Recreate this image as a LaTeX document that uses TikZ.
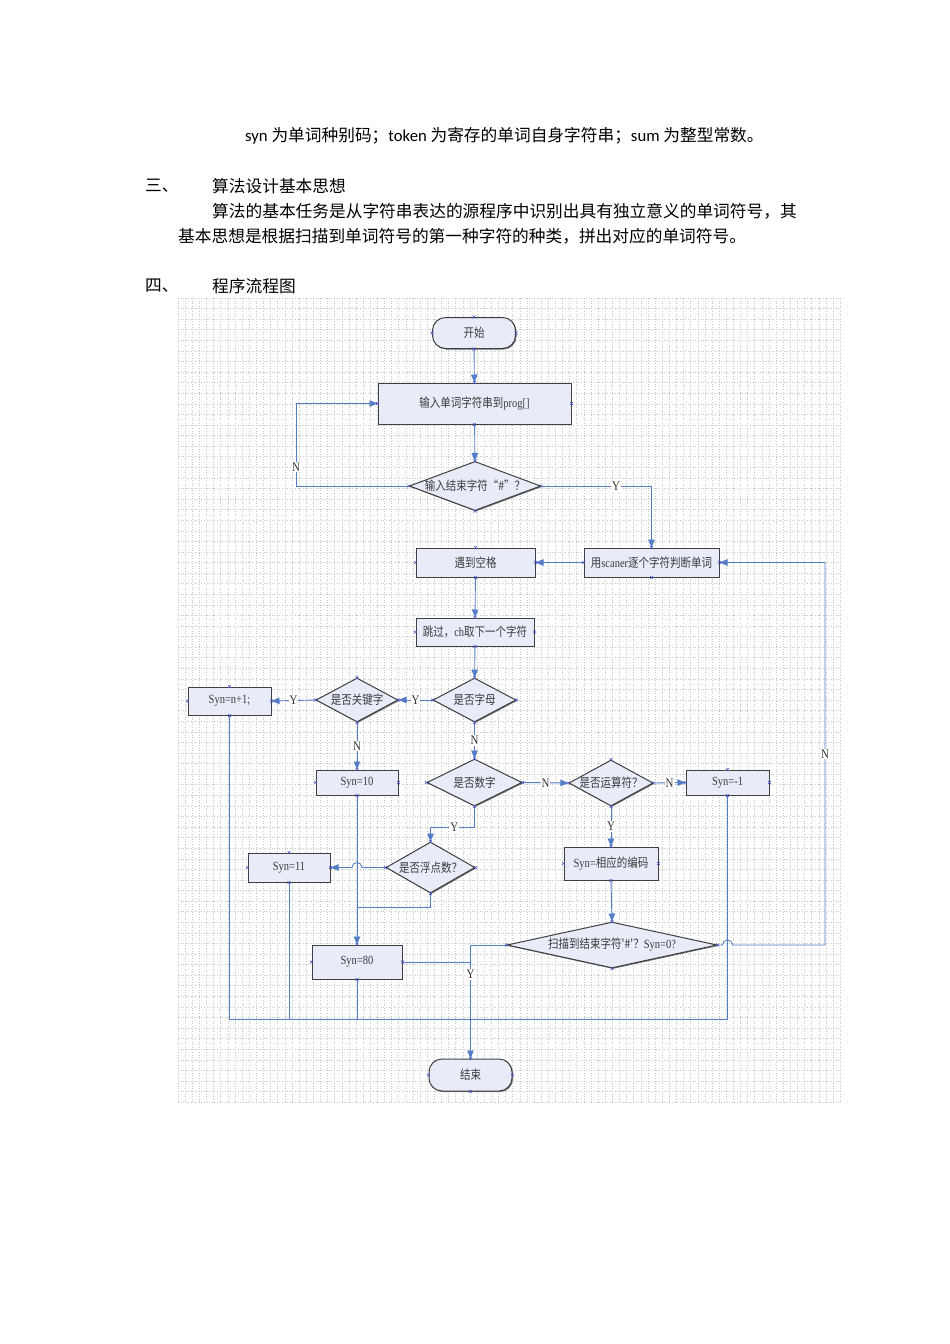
\documentclass[tikz,border=0pt]{standalone}
\usepackage{fontspec}
\setmainfont{Liberation Serif}
\newfontfamily\cjk{Noto Sans CJK SC}
\newfontfamily\calib{Carlito}
\newfontfamily\cjkc[FakeStretch=0.84]{Noto Sans CJK SC}
\newfontfamily\serifc[FakeStretch=0.84]{Liberation Serif}
\usetikzlibrary{shapes.geometric,arrows.meta,shadows,calc}
\definecolor{linkblue}{RGB}{84,125,200}
\definecolor{boxfill}{RGB}{232,236,248}
\definecolor{boxline}{RGB}{64,64,64}
\definecolor{boxtext}{RGB}{60,60,60}
\definecolor{cptblue}{RGB}{70,80,200}
\definecolor{gridgray}{RGB}{200,200,200}
\newcommand{\zh}[1]{{\cjk #1}}
\newcommand{\zc}[1]{{\cjkc #1}}

\begin{document}
\begin{tikzpicture}[x=1pt,y=-1pt,
  bodytext/.style={anchor=west,inner sep=0pt,font=\fontsize{16.7}{20}\selectfont},
  chart/.style={draw=boxline,fill=boxfill,line width=1pt,text=boxtext,inner sep=0pt,
    font=\serifc\fontsize{12.5}{14}\selectfont,
    drop shadow={shadow xshift=1pt,shadow yshift=-1pt,fill=black!55,opacity=1}},
  termbox/.style={chart,rounded corners=13pt},
  procbox/.style={chart,rectangle},
  decbox/.style={chart,diamond},
  link/.style={draw=linkblue,line width=0.9pt},
  flow/.style={link,-{Triangle[length=8pt,width=6.5pt]}},
  tag/.style={fill=white,inner sep=1pt,text=black!80,font=\serifc\fontsize{13}{14}\selectfont},
  gridline/.style={gridgray,line width=0.5pt,dash pattern=on 1pt off 1.6pt},
  cptmark/.style={cptblue,line width=0.5pt}]
\fill[white] (0,0) rectangle (950,1344);
\useasboundingbox (0,0) rectangle (950,1344);

\node[bodytext] (line1) at (245,136) {\calib syn {\cjk 为单词种别码；}token {\cjk 为寄存的单词自身字符串；}sum {\cjk 为整型常数。}};
\node[bodytext] (sec3) at (145,186) {\zh{三、}};
\node[bodytext] (sec3t) at (212,186) {\zh{算法设计基本思想}};
\node[bodytext] (line2) at (212,211) {\zh{算法的基本任务是从字符串表达的源程序中识别出具有独立意义的单词符号，其}};
\node[bodytext] (line3) at (178,236) {\zh{基本思想是根据扫描到单词符号的第一种字符的种类，拼出对应的单词符号。}};
\node[bodytext] (sec4) at (145,286) {\zh{四、}};
\node[bodytext] (sec4t) at (212,286) {\zh{程序流程图}};

\foreach \gx in {0,...,93}
  \draw[gridline] (178+\gx*7.12,298) -- ++(0,804);
\foreach \gy in {0,...,76}
  \draw[gridline] (178,298+\gy*10.58) -- ++(662,0);

\node[termbox,minimum width=83pt,minimum height=31pt] at (474,333) (start) {\zc{开始}};
\node[procbox,minimum width=193pt,minimum height=41pt] at (474.5,403.5) (input) {\zc{输入单词字符串到}prog[]};
\node[decbox,shape aspect=2.67,minimum width=128pt,minimum height=48pt] at (475,486) (isend) {\zc{输入结束字符“\#”？}};
\node[procbox,minimum width=119pt,minimum height=29pt] at (475.5,562.5) (space) {\zc{遇到空格}};
\node[procbox,minimum width=135pt,minimum height=29pt] at (651.5,562.5) (scan) {\zc{用}scaner\zc{逐个字符判断单词}};
\node[procbox,minimum width=118pt,minimum height=28pt] at (475,632) (skip) {\zc{跳过，}ch\zc{取下一个字符}};
\node[decbox,shape aspect=1.9,minimum width=83pt,minimum height=44pt] at (474.5,700) (isletter) {\zc{是否字母}};
\node[decbox,shape aspect=1.9,minimum width=82pt,minimum height=44pt] at (357,700) (iskey) {\zc{是否关键字}};
\node[procbox,minimum width=83pt,minimum height=28pt] at (229.5,701) (syn1) {Syn=n+1;};
\node[procbox,minimum width=82pt,minimum height=25pt] at (357,782.5) (syn10) {Syn=10};
\node[decbox,shape aspect=2,minimum width=95pt,minimum height=47pt] at (474.5,782.5) (isdigit) {\zc{是否数字}};
\node[decbox,shape aspect=1.83,minimum width=84pt,minimum height=46pt] at (611,783) (isop) {\zc{是否运算符？}};
\node[procbox,minimum width=83pt,minimum height=25pt] at (727.5,782.5) (synm1) {Syn=-1};
\node[decbox,shape aspect=1.75,minimum width=89pt,minimum height=51pt] at (430.5,867.5) (isfloat) {\zc{是否浮点数？}};
\node[procbox,minimum width=82pt,minimum height=29pt] at (289,867.5) (syn11) {Syn=11};
\node[procbox,minimum width=94pt,minimum height=33pt] at (611,863.5) (syncode) {Syn=\zc{相应的编码}};
\node[decbox,shape aspect=4.5,minimum width=210pt,minimum height=46pt] at (612,945) (isscan) {\zc{扫描到结束字符'\#'？}Syn=0?};
\node[procbox,minimum width=90pt,minimum height=34pt] at (357,962) (syn80) {Syn=80};
\node[termbox,minimum width=83pt,minimum height=32pt] at (470.5,1075) (stop) {\zc{结束}};

\coordinate (nloop) at (296,486);
\coordinate (rloop) at (825,945);
\coordinate (ybend) at (474.5,827);
\coordinate (fjoin) at (357,907);
\coordinate (bus) at (0,1019);

\draw[flow] (start) -- (input);
\draw[flow] (input) -- (isend);
\draw[flow] (isend.west) -- (nloop) |- node[tag,pos=0.115] {N} (input.west);
\draw[flow] (isend.east) -| node[tag,pos=0.34] {Y} (scan.north);
\draw[flow] (scan.west) -- (space.east);
\draw[flow] (space) -- (skip);
\draw[flow] (skip) -- (isletter);
\draw[flow] (isletter.west) -- node[tag] {Y} (iskey.east);
\draw[flow] (iskey.west) -- node[tag] {Y} (syn1.east);
\draw[flow] (iskey.south) -- node[tag] {N} (syn10.north);
\draw[flow] (isletter.south) -- node[tag] {N} (isdigit.north);
\draw[flow] (isdigit.east) -- node[tag] {N} (isop.west);
\draw[flow] (isop.east) -- node[tag] {N} (synm1.west);
\draw[flow] (isop.south) -- node[tag] {Y} (syncode.north);
\draw[flow] (isdigit.south) -- (ybend) -| node[tag,pos=0.23] {Y} (isfloat.north);
\draw[flow] (isfloat.west) -- ($(fjoin |- isfloat.west)+(5,0)$) arc[start angle=0,end angle=180,radius=5pt] -- (syn11.east);
\draw[link] (isfloat.south) |- (fjoin);
\draw[flow] (syn10.south) -- (syn80.north);
\draw[flow] (syncode.south) -- (isscan.north);
\draw[flow] (isscan.east) -- ($(synm1.south |- isscan.east)+(-5,0)$) arc[start angle=180,end angle=0,radius=5pt] -- (rloop) |- node[tag,pos=0.25] {N} (scan.east);
\draw[flow] (isscan.west) -| node[tag,pos=0.63] {Y} (stop.north);
\draw[link] (syn80.east) -- (syn80.east -| stop.north);
\draw[link] (syn1.south) |- (synm1.south |- bus) -- (synm1.south);
\draw[link] (syn11.south) -- (syn11.south |- bus);
\draw[link] (syn80.south) -- (syn80.south |- bus);

\foreach \n in {start,input,isend,space,scan,skip,isletter,iskey,syn1,syn10,isdigit,isop,synm1,isfloat,syn11,syncode,isscan,syn80,stop}
  \foreach \a in {north,south,east,west}
    \draw[cptmark] (\n.\a) +(-1.5,-1.5) -- +(1.5,1.5) +(-1.5,1.5) -- +(1.5,-1.5);
\end{tikzpicture}
\end{document}
